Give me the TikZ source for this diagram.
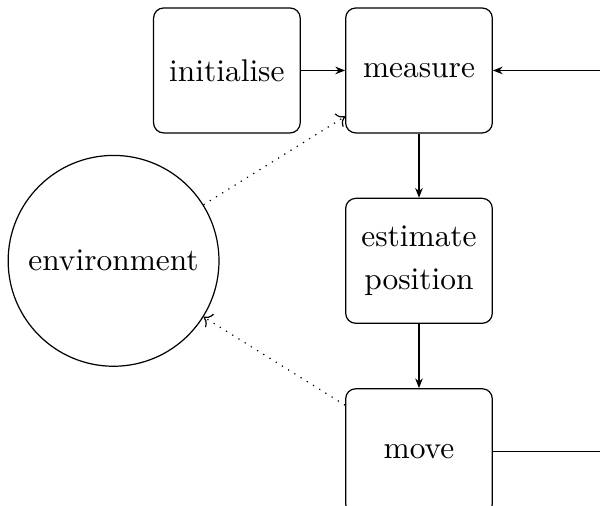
\documentclass[tikz,border=0pt]{standalone}
\usepackage{tikz}
\usetikzlibrary{arrows.meta, positioning}
\tikzset{
  lcbox/.style={rectangle, rounded corners=3.3pt, draw=black, line width=0.4pt,
                align=center, minimum width=1.69cm, minimum height=1.44cm,
                font=\fontsize{10.3}{12.4}\selectfont},
  lcenv/.style={circle, draw=black, line width=0.4pt, minimum size=2.43cm,
                font=\fontsize{10.3}{12.4}\selectfont},
  lcflow/.style={-{Stealth[length=3.2pt, width=2.5pt]}, line width=0.4pt},
  lclink/.style={->, dotted, line width=0.4pt},
}
\begin{document}
\begin{tikzpicture}[node distance=0.74cm and 0.51cm]
  \useasboundingbox (-4.829,-5.019) rectangle (2.086,0.812);
  \node[lcbox] (measure) at (0,0) {measure};
  \node[lcbox, left=of measure] (init) {initialise};
  \node[lcbox, below=of measure] (estimate) {estimate\\[1.5pt]position};
  \node[lcbox, below=of estimate] (move) {move};
  \node[lcenv, left=1.446cm of estimate] (env) {environment};
  \draw[lcflow] (init) -- (measure);
  \draw[lcflow] (measure) -- (estimate);
  \draw[lcflow] (estimate) -- (move);
  % loop back to measure, runs off the right edge
  \draw[lcflow] (move.east) -- ++(1.6,0) |- (measure.east);
  \draw[lclink] (env) -- (measure);
  \draw[lclink] (move) -- (env);
\end{tikzpicture}
\end{document}
